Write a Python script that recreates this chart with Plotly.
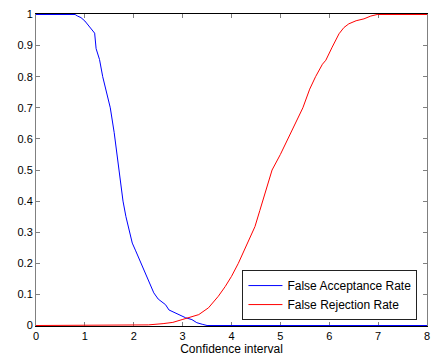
import plotly.graph_objects as go

far_x = [0, 0.80, 0.85, 0.92, 1.0, 1.05, 1.1, 1.2, 1.23, 1.3, 1.365, 1.45, 1.52, 1.6, 1.70, 1.78,
         1.84, 1.92, 1.97, 2.04, 2.18, 2.28, 2.41, 2.50, 2.65, 2.72, 2.85, 2.92, 3.06, 3.19,
         3.29, 3.40, 3.50, 8]
far_y = [1, 1, 0.995, 0.99, 0.979, 0.97, 0.96, 0.94, 0.89, 0.855, 0.80, 0.75, 0.70, 0.62, 0.50, 0.40,
         0.35, 0.30, 0.265, 0.24, 0.19, 0.154, 0.105, 0.085, 0.067, 0.05, 0.041, 0.035, 0.025, 0.019,
         0.009, 0.004, 0, 0]

frr_x = [0, 2.0, 2.3, 2.6, 2.8, 2.99, 3.15, 3.33, 3.53, 3.73, 3.87, 4.0, 4.14, 4.27, 4.40, 4.48,
         4.58, 4.68, 4.83, 5.0, 5.15, 5.3, 5.46, 5.6, 5.72, 5.86, 5.93, 6.06, 6.2, 6.3, 6.4, 6.55,
         6.71, 6.85, 6.98, 8]
frr_y = [0, 0, 0.002, 0.006, 0.01, 0.019, 0.026, 0.035, 0.057, 0.094, 0.125, 0.158, 0.20, 0.244, 0.29, 0.318,
         0.37, 0.425, 0.50, 0.55, 0.60, 0.65, 0.70, 0.76, 0.80, 0.84, 0.853, 0.895, 0.938, 0.958, 0.970, 0.98,
         0.986, 0.995, 1, 1]

x_ticks = [0, 1, 2, 3, 4, 5, 6, 7, 8]
y_ticks = [0, 0.1, 0.2, 0.3, 0.4, 0.5, 0.6, 0.7, 0.8, 0.9, 1]
y_tick_text = ["0", "0.1", "0.2", "0.3", "0.4", "0.5", "0.6", "0.7", "0.8", "0.9", "1"]

fig = go.Figure()
fig.add_trace(go.Scatter(x=far_x, y=far_y, mode="lines", name="False Acceptance Rate",
                         line=dict(color="#0000ff", width=1)))
fig.add_trace(go.Scatter(x=frr_x, y=frr_y, mode="lines", name="False Rejection Rate",
                         line=dict(color="#ff0000", width=1)))

fam = "Liberation Sans, Arial, sans-serif"
font = dict(family=fam, size=11, color="black")
fig.update_layout(
    width=431, height=357,
    margin=dict(l=36, r=1, t=14, b=31),
    paper_bgcolor="white", plot_bgcolor="white",
    font=font,
    showlegend=True,
    legend=dict(x=0.528, y=0.019, xanchor="left", yanchor="bottom",
                bgcolor="white", bordercolor="#222222", borderwidth=1,
                font=dict(family=fam, size=12, color="black"), tracegroupgap=0, itemwidth=34),
    xaxis=dict(range=[0, 8], tickvals=x_ticks, ticks="inside", ticklen=4, tickcolor="gray",
               showline=True, linecolor="black", linewidth=1, mirror="ticks",
               showgrid=False, zeroline=False, layer="below traces", ticklabeloverflow="allow",
               title=dict(text="Confidence interval", font=dict(family=fam, size=12, color="black"),
                          standoff=3)),
    yaxis=dict(range=[-0.0016, 1.0016], tickvals=y_ticks, ticktext=y_tick_text, ticks="inside",
               ticklen=4, tickcolor="gray", showline=True, linecolor="gray", linewidth=1,
               mirror="ticks", showgrid=False, zeroline=False, layer="below traces"),
)

fig.write_html("out.html")
